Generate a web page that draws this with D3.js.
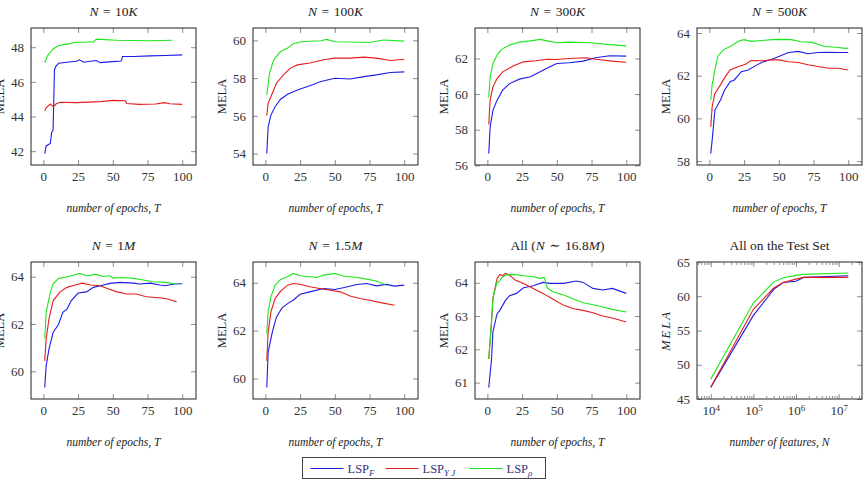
<!DOCTYPE html>
<html>
<head>
<meta charset="utf-8">
<script src="https://cdn.jsdelivr.net/npm/d3@7"></script>
<style>
  body { margin: 0; background: #fff; }
  svg text { font-family: "Liberation Serif", "DejaVu Serif", serif; }
</style>
</head>
<body>
<svg id="chart" width="867" height="480"></svg>
<script>
/* Data: [epoch, MELA] */
var n10K_F   = [[1,41.86],[2,42.3],[5,42.44],[6,43.1],[7,43.2],[8,46.7],[9,46.9],[11,47.07],[17,47.13],[24,47.19],[26,47.27],[29,47.13],[35,47.2],[38,47.23],[41,47.11],[50,47.17],[56,47.2],[57,47.46],[65,47.46],[77,47.5],[88,47.52],[100,47.56]];
var n10K_YJ  = [[1,44.31],[2,44.5],[5,44.72],[7,44.57],[8,44.62],[9,44.72],[12,44.82],[24,44.8],[41,44.86],[50,44.93],[59,44.91],[60,44.75],[69,44.7],[81,44.72],[87,44.8],[91,44.74],[100,44.7]];
var n10K_rho = [[1,47.1],[3,47.5],[5,47.7],[7,47.9],[11,48.1],[17,48.18],[23,48.27],[31,48.3],[36,48.3],[38,48.45],[41,48.45],[53,48.4],[65,48.39],[77,48.37],[93,48.4]];

var n100K_F   = [[1,54.0],[2,55.42],[4,56.04],[7,56.48],[11,56.88],[16,57.14],[23,57.37],[32,57.59],[40,57.82],[50,57.99],[61,57.95],[71,58.08],[80,58.17],[90,58.3],[100,58.33]];
var n100K_YJ  = [[1,56.02],[2,56.66],[5,57.2],[8,57.73],[13,58.17],[18,58.53],[23,58.7],[32,58.8],[42,58.97],[50,59.06],[61,59.06],[71,59.11],[80,59.06],[90,58.93],[100,59.0]];
var n100K_rho = [[1,57.1],[3,58.26],[6,58.97],[11,59.41],[16,59.59],[20,59.82],[25,59.91],[32,59.95],[40,59.98],[44,60.05],[50,59.93],[61,59.91],[75,59.89],[85,60.02],[100,59.96]];

var n300K_F   = [[1,56.66],[2,58.16],[4,59.09],[7,59.66],[11,60.22],[16,60.59],[23,60.84],[31,60.97],[38,61.25],[45,61.53],[50,61.72],[59,61.76],[69,61.85],[78,62.04],[88,62.15],[100,62.13]];
var n300K_YJ  = [[1,58.29],[2,59.66],[4,60.4],[7,60.87],[11,61.25],[19,61.59],[26,61.81],[35,61.87],[43,61.96],[50,61.94],[59,62.0],[71,62.04],[78,61.96],[90,61.85],[100,61.79]];
var n300K_rho = [[1,59.79],[2,60.97],[4,61.72],[7,62.19],[10,62.5],[16,62.75],[23,62.92],[31,62.99],[38,63.07],[43,62.99],[50,62.88],[59,62.92],[74,62.88],[86,62.79],[100,62.71]];

var n500K_F   = [[1,58.35],[2,58.97],[4,60.39],[8,60.86],[11,61.33],[15,61.72],[18,61.8],[23,62.19],[28,62.27],[33,62.46],[38,62.63],[45,62.77],[50,62.9],[57,63.09],[64,63.14],[71,63.03],[78,63.09],[86,63.1],[93,63.09],[100,63.09]];
var n500K_YJ  = [[1,59.6],[2,60.54],[4,61.17],[8,61.57],[11,61.91],[15,62.27],[21,62.43],[26,62.54],[30,62.71],[38,62.7],[45,62.74],[50,62.74],[57,62.65],[64,62.62],[71,62.51],[78,62.43],[86,62.35],[93,62.35],[100,62.27]];
var n500K_rho = [[1,60.86],[2,61.57],[4,62.27],[6,62.9],[10,63.21],[16,63.4],[21,63.61],[25,63.69],[30,63.61],[38,63.65],[45,63.69],[50,63.7],[59,63.69],[66,63.59],[74,63.56],[83,63.37],[93,63.32],[98,63.28],[100,63.29]];

var n1M_F   = [[1,59.31],[2,60.23],[4,60.93],[7,61.64],[11,61.99],[14,62.49],[17,62.63],[20,62.98],[25,63.31],[31,63.36],[36,63.55],[41,63.62],[48,63.72],[55,63.76],[65,63.73],[69,63.69],[77,63.73],[84,63.65],[88,63.62],[94,63.69],[100,63.7]];
var n1M_YJ  = [[1,60.44],[2,61.36],[4,62.2],[7,62.98],[12,63.36],[17,63.55],[23,63.65],[28,63.73],[34,63.65],[41,63.62],[46,63.5],[53,63.36],[60,63.27],[67,63.27],[74,63.15],[81,63.12],[88,63.08],[96,62.94]];
var n1M_rho = [[1,61.39],[2,62.49],[5,63.34],[7,63.69],[11,63.93],[17,64.0],[22,64.07],[26,64.14],[31,64.04],[38,64.1],[43,64.01],[48,64.04],[50,63.94],[57,63.97],[65,63.93],[72,63.86],[79,63.79],[88,63.76],[96,63.69]];

var n15M_F   = [[1,59.62],[2,61.09],[5,61.94],[8,62.57],[12,62.95],[17,63.17],[20,63.27],[25,63.52],[32,63.62],[42,63.76],[50,63.72],[56,63.79],[66,63.93],[73,63.97],[80,63.87],[87,63.93],[93,63.86],[100,63.9]];
var n15M_YJ  = [[1,60.74],[2,61.94],[4,62.78],[7,63.34],[11,63.65],[16,63.9],[20,63.97],[25,63.94],[32,63.83],[39,63.76],[47,63.69],[54,63.62],[61,63.45],[68,63.34],[75,63.27],[83,63.17],[93,63.06]];
var n15M_rho = [[1,61.87],[2,62.78],[4,63.41],[7,63.9],[11,64.14],[16,64.25],[20,64.39],[25,64.29],[32,64.25],[37,64.22],[42,64.32],[50,64.39],[56,64.28],[66,64.22],[73,64.15],[80,64.07],[86,63.93]];

var all_F   = [[1,60.85],[3,61.71],[4,62.52],[7,63.07],[9,63.17],[13,63.47],[16,63.61],[21,63.68],[26,63.85],[33,63.91],[40,64.01],[45,63.98],[55,63.98],[64,64.05],[69,64.01],[76,63.83],[83,63.78],[90,63.83],[100,63.68]];
var all_YJ  = [[1,61.71],[3,62.82],[4,63.53],[7,64.13],[9,64.25],[11,64.21],[13,64.28],[16,64.23],[20,64.08],[26,63.98],[33,63.83],[40,63.68],[47,63.51],[55,63.32],[62,63.22],[69,63.17],[76,63.1],[83,63.0],[90,62.94],[100,62.82]];
var all_rho = [[1,61.71],[3,62.82],[4,63.53],[7,64.03],[8,64.01],[10,64.13],[13,64.23],[19,64.25],[26,64.21],[33,64.18],[38,64.13],[41,64.16],[43,63.85],[47,63.73],[55,63.63],[62,63.51],[69,63.4],[76,63.34],[83,63.27],[90,63.2],[100,63.12]];

/* test set panel */
var testN    = [1e4, 1e5, 3e5, 5e5, 1e6, 1.5e6, 1.68e7];
var test_F   = [46.7, 57.2, 61.0, 62.0, 62.2, 62.75, 63.0];
var test_YJ  = [46.7, 58.1, 61.2, 62.0, 62.5, 62.75, 62.75];
var test_rho = [47.9, 59.0, 62.1, 62.7, 63.05, 63.2, 63.4];

/* ticks */
var epochTicks = [0, 25, 50, 75, 100];
var yTicks10K = [42, 44, 46, 48];
var yTicks100K = [54, 56, 58, 60];
var yTicks300K = [56, 58, 60, 62];
var yTicks500K = [58, 60, 62, 64];
var yTicks1M = [60, 62, 64];
var yTicks15M = [60, 62, 64];
var yTicksAll = [61, 62, 63, 64];
var testYTicks = [45, 50, 55, 60, 65];
var testXTicks = [1e4, 1e5, 1e6, 1e7];

/* titles: [text, style] pieces, style "i" = italic */
var titles = [
  [["N","i"],["\u2004=\u200410",""],["K","i"]],
  [["N","i"],["\u2004=\u2004100",""],["K","i"]],
  [["N","i"],["\u2004=\u2004300",""],["K","i"]],
  [["N","i"],["\u2004=\u2004500",""],["K","i"]],
  [["N","i"],["\u2004=\u20041",""],["M","i"]],
  [["N","i"],["\u2004=\u20041.5",""],["M","i"]],
  [["All (",""],["N","i"],["\u2004\u223C\u200416.8",""],["M","i"],[")",""]],
  [["All on the Test Set",""]]
];
var legendNames = ["F", "Y J", "\u03C1"];

/* layout */
var FONT = "'Liberation Serif', 'DejaVu Serif', serif";
var svg = d3.select("#chart");
var colLeft = [31, 253, 475, 697], rowTop = [28, 262], W = 165, H = 137;
var colors = ["#1c1ce6", "#e61c1c", "#1ee61e"];

function rich(t, parts) {
  parts.forEach(function(p) {
    var s = t.append("tspan").text(p[0]);
    if (p[1] == "i") s.attr("font-style", "italic");
  });
}

function styleAxis(a) {
  a.attr("font-family", FONT).attr("font-size", 13);
  a.select(".domain").remove();
  a.selectAll(".tick line").attr("stroke", "#8c8c8c");
  a.selectAll(".tick text").attr("fill", "#333");
}

function panel(i, series, yTicks, x, y, xTicks, fmtX) {
  var col = i % 4, row = Math.floor(i / 4);
  var g = svg.append("g").attr("transform", "translate(" + colLeft[col] + "," + rowTop[row] + ")");

  styleAxis(g.append("g").attr("class", "xb").attr("transform", "translate(0," + H + ")")
    .call(d3.axisBottom(x).tickValues(xTicks).tickSize(-5).tickPadding(7).tickFormat(fmtX || d3.format("d"))));
  styleAxis(g.append("g").call(d3.axisTop(x).tickValues(xTicks).tickSize(-5).tickFormat("")));
  styleAxis(g.append("g").call(d3.axisLeft(y).tickValues(yTicks).tickSize(-5).tickPadding(7).tickFormat(d3.format("d"))));
  styleAxis(g.append("g").attr("transform", "translate(" + W + ",0)")
    .call(d3.axisRight(y).tickValues(yTicks).tickSize(-5).tickFormat("")));

  var line = d3.line().x(function(d) { return x(d[0]); }).y(function(d) { return y(d[1]); });
  series.forEach(function(s, k) {
    g.append("path").datum(s).attr("d", line)
      .attr("fill", "none").attr("stroke", colors[k]).attr("stroke-width", 1.1);
  });

  g.append("rect").attr("width", W).attr("height", H)
    .attr("fill", "none").attr("stroke", "#222").attr("stroke-width", 1);

  var t = g.append("text").attr("x", W / 2).attr("y", -12)
    .attr("text-anchor", "middle").attr("font-family", FONT).attr("font-size", 13.5).attr("fill", "#222");
  rich(t, titles[i]);

  return g;
}

function labels(g, xText, italicY) {
  g.append("text").attr("x", W / 2).attr("y", H + 47)
    .attr("text-anchor", "middle").attr("font-family", FONT).attr("font-size", 11.5).attr("font-style", "italic")
    .attr("fill", "#222").text(xText);
  g.append("text").attr("transform", "translate(-31," + (H / 2) + ") rotate(-90)")
    .attr("text-anchor", "middle").attr("dy", "0.35em").attr("font-family", FONT).attr("font-size", 12.5)
    .attr("font-style", italicY ? "italic" : null).attr("letter-spacing", italicY ? 2 : null)
    .attr("fill", "#222").text("MELA");
}

function epochPanel(i, series, yTicks) {
  var vals = [].concat.apply([], series).map(function(d) { return d[1]; });
  var lo = d3.min(vals), hi = d3.max(vals), pad = (hi - lo) * 0.1;
  var x = d3.scaleLinear().domain([1 - 9.9, 100 + 9.9]).range([0, W]);
  var y = d3.scaleLinear().domain([lo - pad, hi + pad]).range([H, 0]);
  var g = panel(i, series, yTicks, x, y, epochTicks);
  labels(g, "number of epochs, T", false);
}

epochPanel(0, [n10K_F, n10K_YJ, n10K_rho], yTicks10K);
epochPanel(1, [n100K_F, n100K_YJ, n100K_rho], yTicks100K);
epochPanel(2, [n300K_F, n300K_YJ, n300K_rho], yTicks300K);
epochPanel(3, [n500K_F, n500K_YJ, n500K_rho], yTicks500K);
epochPanel(4, [n1M_F, n1M_YJ, n1M_rho], yTicks1M);
epochPanel(5, [n15M_F, n15M_YJ, n15M_rho], yTicks15M);
epochPanel(6, [all_F, all_YJ, all_rho], yTicksAll);

/* test set, log x */
(function() {
  var l0 = Math.log10(testN[0]), l1 = Math.log10(testN[testN.length - 1]), pad = (l1 - l0) * 0.1;
  var x = d3.scaleLog().domain([Math.pow(10, l0 - pad), Math.pow(10, l1 + pad)]).range([0, W]);
  var y = d3.scaleLinear().domain([45, 65]).range([H, 0]);
  var series = [test_F, test_YJ, test_rho].map(function(v) {
    return v.map(function(d, j) { return [testN[j], d]; });
  });
  var g = panel(7, series, testYTicks, x, y, testXTicks, function() { return ""; });

  // 10^k labels
  g.select("g.xb").selectAll(".tick text").each(function(d) {
    var t = d3.select(this);
    t.append("tspan").text("10");
    t.append("tspan").attr("dy", "-0.45em").attr("font-size", 9).text(Math.round(Math.log10(d)));
  });

  var minor = [];
  for (var e = 3; e <= 7; e++) for (var k = 2; k <= 9; k++) {
    var v = k * Math.pow(10, e);
    if (v > x.domain()[0] && v < x.domain()[1]) minor.push(v);
  }
  styleAxis(g.append("g").attr("transform", "translate(0," + H + ")")
    .call(d3.axisBottom(x).tickValues(minor).tickSize(-3).tickFormat("")));
  styleAxis(g.append("g").call(d3.axisTop(x).tickValues(minor).tickSize(-3).tickFormat("")));

  labels(g, "number of features, N", true);
})();

/* legend */
var lg = svg.append("g").attr("transform", "translate(302.5,457.5)");
lg.append("rect").attr("width", 243).attr("height", 21)
  .attr("fill", "#fff").attr("stroke", "#444");
var legX = [8, 83, 167];
legendNames.forEach(function(n, k) {
  lg.append("line").attr("x1", legX[k]).attr("x2", legX[k] + 33)
    .attr("y1", 11).attr("y2", 11).attr("stroke", colors[k]).attr("stroke-width", 1.1);
  var t = lg.append("text").attr("x", legX[k] + 37).attr("y", 15)
    .attr("font-family", FONT).attr("font-size", 12.5).attr("fill", "#33337a");
  t.append("tspan").text("LSP");
  t.append("tspan").attr("dy", 3).attr("font-size", 9).attr("font-style", "italic").text(n);
});
</script>
</body>
</html>
